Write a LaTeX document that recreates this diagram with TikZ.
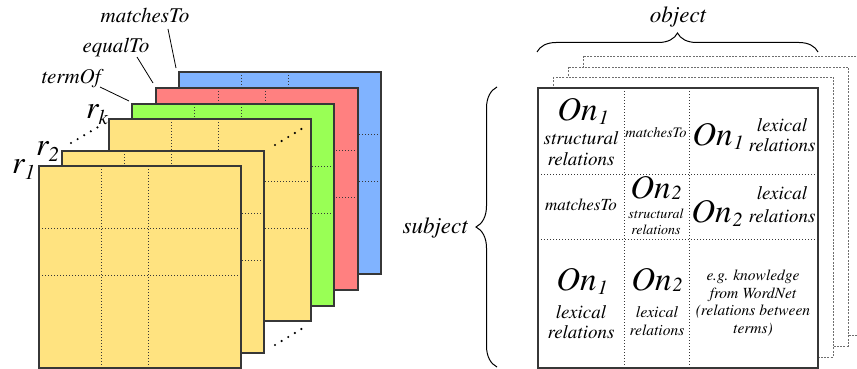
\documentclass[tikz,border=0pt]{standalone}
\usepackage[T1]{fontenc}
\renewcommand\rmdefault{ptm}
\usetikzlibrary{decorations.pathreplacing}
\definecolor{ylw}{RGB}{255,227,128}
\definecolor{grn}{RGB}{153,255,85}
\definecolor{rdd}{RGB}{255,128,128}
\definecolor{blu}{RGB}{128,179,255}
\definecolor{edgec}{RGB}{55,55,55}
\definecolor{dotc}{RGB}{110,110,110}
\tikzset{
  griddot/.style={draw=edgec,line width=0.8pt,dash pattern=on 0.8pt off 2.2pt},
  layerbox/.style={fill=#1,draw=edgec,line width=1.3pt},
  backrect/.style={fill=white,draw=dotc,line width=0.9pt,dash pattern=on 2pt off 1.3pt},
  lbl/.style={font=\rmfamily\fontsize{21}{21}\selectfont\itshape,inner sep=0pt},
  txt/.style={inner sep=0pt,anchor=base,font=\rmfamily\itshape},
  leader/.style={draw=black,line width=0.8pt},
  bracestyle/.style={draw=black,line width=1pt,decorate},
  smalldot/.style={fill=black,draw=none}
}
\newcommand\layer[3]{%
  \filldraw[layerbox=#3] (#1,#2) rectangle ++(202,202);
  \draw[griddot] (#1+62,#2) -- ++(0,202) (#1+109,#2) -- ++(0,202)
                 (#1,#2+62) -- ++(202,0) (#1,#2+109) -- ++(202,0);
}
\newcommand\fs[1]{\rmfamily\itshape\fontsize{#1}{#1}\selectfont}
\newcommand\Onn[2][-4pt]{{\fs{33}On}\kern1pt{\fs{20}\raisebox{#1}{#2}}}
\newcommand\rlab[1]{{\fs{32}r}{\fs{21}\raisebox{-6pt}{#1}}}
\begin{document}
\begin{tikzpicture}[x=1pt,y=-1pt]
\useasboundingbox (0,0) rectangle (857,369);
\clip (0,0) rectangle (857,369);
% ---------- left stack ----------
\layer{179}{72}{blu}
\layer{156}{88}{rdd}
\layer{132}{104}{grn}
\layer{109}{119}{ylw}
\layer{62}{151}{ylw}
\layer{39}{166}{ylw}
% ellipsis dots
\foreach \i in {0,...,4} {
  \fill[smalldot] (71+6.6*\i,143-3.9*\i) circle (1.2);
  \fill[smalldot] (275+6.6*\i,145-4*\i) circle (1.2);
  \fill[smalldot] (275+6.6*\i,345-4*\i) circle (1.2);
}
% r labels
\node[txt,anchor=base west] (r1) at (12,173) {\rlab{1}};
\node[txt,anchor=base west] (r2) at (36,155) {\rlab{2}};
\node[txt,anchor=base west] (rk) at (86,118) {\rlab{k}};
% relation labels
\node[lbl,anchor=base] (termof) at (71,84) {termOf};
\node[lbl,anchor=base] (equalto) at (116,53) {equalTo};
\node[lbl,anchor=base] (matchesto) at (145,23) {matchesTo};
\coordinate (t0) at (100,87);  \coordinate (t1) at (129,101);
\coordinate (e0) at (137,57);  \coordinate (e1) at (153,83);
\coordinate (m0) at (168,29);  \coordinate (m1) at (176,68);
\draw[leader] (t0) -- (t1);
\draw[leader] (e0) -- (e1);
\draw[leader] (m0) -- (m1);
% ---------- right matrix ----------
\filldraw[backrect] (583,56) rectangle (863,335);
\filldraw[backrect] (568,67) rectangle (848,346);
\filldraw[backrect] (553,77) rectangle (833,357);
\filldraw[fill=white,draw=edgec,line width=1.3pt] (538,88) rectangle (818,368);
\draw[griddot] (624,88) -- (624,368) (689,88) -- (689,368)
               (538,174) -- (818,174) (538,239) -- (818,239);
% braces
\coordinate (ob0) at (537,52); \coordinate (ob1) at (818,52);
\draw[bracestyle,decoration={brace,amplitude=19pt}] (ob0) -- (ob1);
\node[lbl,font=\fs{23},anchor=base] (object) at (678,23) {object};
\coordinate (sb0) at (497,367); \coordinate (sb1) at (497,87);
\draw[bracestyle,decoration={brace,amplitude=21pt}] (sb0) -- (sb1);
\node[lbl,font=\fs{23},anchor=base east] (subject) at (468,233) {subject};
% cell texts row 1
\node[txt] (c11a) at (583,120) {\Onn{1}};
\node[txt,font=\fs{19}] (c11b) at (581,144) {structural};
\node[txt,font=\fs{19}] (c11c) at (581,165) {relations};
\node[txt,font=\fs{14.5}] (c12) at (656,137) {matchesTo};
\node[txt] (c13a) at (718,145) {\Onn{1}};
\node[txt,font=\fs{19}] (c13b) at (782,131) {lexical};
\node[txt,font=\fs{19}] (c13c) at (782,151) {relations};
% row 2
\node[txt,font=\fs{17}] (c21) at (581,210) {matchesTo};
\node[txt] (c22a) at (656,198) {\Onn[-1pt]{2}};
\node[txt,font=\fs{14}] (c22b) at (656,218) {structural};
\node[txt,font=\fs{14}] (c22c) at (656,234) {relations};
\node[txt] (c23a) at (717,222) {\Onn{2}};
\node[txt,font=\fs{19}] (c23b) at (782,199) {lexical};
\node[txt,font=\fs{19}] (c23c) at (782,222) {relations};
% row 3
\node[txt] (c31a) at (582,290) {\Onn{1}};
\node[txt,font=\fs{19}] (c31b) at (581,318) {lexical};
\node[txt,font=\fs{19}] (c31c) at (581,338) {relations};
\node[txt] (c32a) at (657,290) {\Onn[-1pt]{2}};
\node[txt,font=\fs{16}] (c32b) at (657,317) {lexical};
\node[txt,font=\fs{15.5}] (c32c) at (657,335) {relations};
\node[txt,font=\fs{15.5}] (c33a) at (753,280) {e.g. knowledge};
\node[txt,font=\fs{15.5}] (c33b) at (753,298) {from WordNet};
\node[txt,font=\fs{15.5}] (c33c) at (753,315) {(relations between};
\node[txt,font=\fs{15.5}] (c33d) at (753,333) {terms)};
\end{tikzpicture}
\end{document}
